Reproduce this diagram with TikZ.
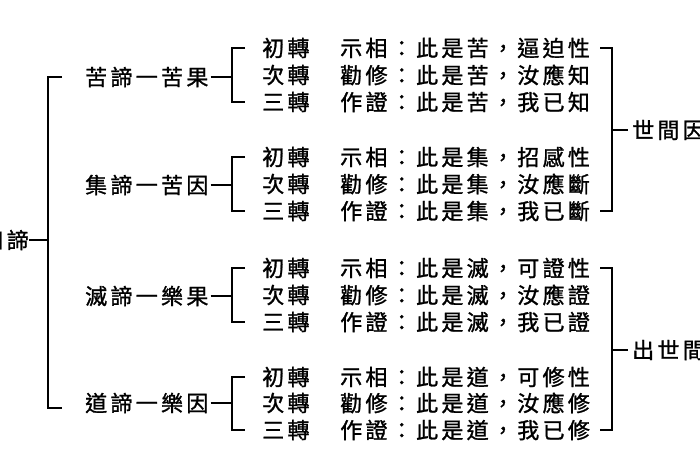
\documentclass[tikz,border=0pt]{standalone}
\usepackage{fontspec}
\newfontfamily\cjk[LetterSpace=15,FakeBold=1.2]{Noto Sans CJK TC}
\begin{document}
\begin{tikzpicture}[x=1pt,y=1pt,
  txt/.style={inner sep=0pt,anchor=west,font=\cjk\fontsize{22}{22}\selectfont},
  ln/.style={line width=1.3pt,black}]
\useasboundingbox (0,0) rectangle (700,-470);
\clip (0,0) rectangle (700,-470);
\fill[white] (0,0) rectangle (700,-470);
\node[txt,anchor=east] (root) at (29,-240) {四諦};
\coordinate (rb) at (48,-240);
\draw[ln] (root.east) -- (rb);
\draw[ln] (62,-77) -| (48,-408) -- (62,-408);
\def\gys{{77,185,296,403}}
\foreach \g/\lab/\ya/\yb/\yc/\obj/\e in {
 1/苦諦一苦果/48/75/102/苦/{逼迫性,汝應知,我已知},
 2/集諦一苦因/157/184/211/集/{招感性,汝應斷,我已斷},
 3/滅諦一樂果/268/295/322/滅/{可證性,汝應證,我已證},
 4/道諦一樂因/377/403/430/道/{可修性,汝應修,我已修}}{
  \pgfmathsetmacro\gy{\gys[\g-1]}
  \node[txt] (g\g) at (85,-\gy) {\lab};
  \coordinate (b\g) at (232,-\gy);
  \draw[ln] (g\g.east) ++(2pt,0) -- (b\g);
  \draw[ln] (245,-\ya) -| (232,-\yc) -- (245,-\yc);
  \foreach \r/\t/\v [count=\i] in {\ya/初轉/示相,\yb/次轉/勸修,\yc/三轉/作證}{
    \node[txt] (t\g\i) at (262,-\r) {\t};
    \foreach \ee [count=\j] in \e {\ifnum\j=\i
      \node[txt] (s\g\i) at (340,-\r) {\v：此是\obj，\ee};\fi}
  }
}
\draw[ln] (600,-48) -- (612,-48) |- (600,-211);
\draw[ln] (612,-130) -- (628,-130);
\node[txt] (w1) at (632,-130) {世間因果};
\draw[ln] (600,-268) -- (612,-268) |- (600,-430);
\draw[ln] (612,-350) -- (628,-350);
\node[txt] (w2) at (632,-350) {出世間因果};
\end{tikzpicture}
\end{document}
